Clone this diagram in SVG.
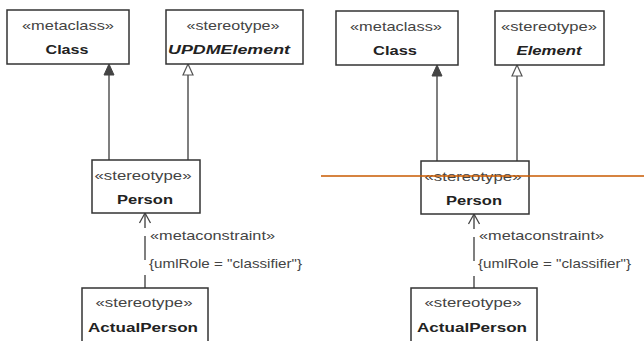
<svg xmlns="http://www.w3.org/2000/svg" width="644" height="341" viewBox="0 0 644 341">
  <style>
    .box { fill: #ffffff; stroke: #333333; stroke-width: 1.5; }
    .st { font-family: "Liberation Sans", Arial, sans-serif; font-size: 13.5px; fill: #444444; text-anchor: middle; }
    .nm { font-family: "Liberation Sans", Arial, sans-serif; font-size: 13.5px; font-weight: bold; fill: #222222; text-anchor: middle; }
    .it { font-style: italic; }
    .lbl { font-family: "Liberation Sans", Arial, sans-serif; font-size: 13.5px; fill: #444444; }
    .edge { fill: none; stroke: #555555; stroke-width: 1.5; }
    .dep { fill: none; stroke: #555555; stroke-width: 1.5; stroke-dasharray: 15 8 24 15 13; }
    .open { fill: none; stroke: #444444; stroke-width: 1.3; }
    .tri-filled { fill: #444444; stroke: #444444; stroke-width: 1; }
    .tri-hollow { fill: #ffffff; stroke: #555555; stroke-width: 1.2; }
  </style>
  <rect width="644" height="341" fill="#ffffff"/>

  <!-- left model -->
  <g id="connectors-left">
    <line class="edge" x1="109" y1="75" x2="109" y2="160"/>
    <polygon class="tri-filled" points="109,64 104,75 114,75"/>
    <line class="edge" x1="188" y1="75" x2="188" y2="160"/>
    <polygon class="tri-hollow" points="188,64 183,75 193,75"/>
    <line class="dep" x1="145" y1="213" x2="145" y2="288"/>
    <polyline class="open" points="139.5,223 145,213 150.5,223"/>
    <text class="lbl" x="150" y="240" textLength="125" lengthAdjust="spacingAndGlyphs">«metaconstraint»</text>
    <text class="lbl" x="149" y="268" textLength="153" lengthAdjust="spacingAndGlyphs">{umlRole = "classifier"}</text>
  </g>
  <g id="left-class">
    <rect class="box" x="7" y="10" width="122" height="54"/>
    <text class="st" x="68" y="30" textLength="92" lengthAdjust="spacingAndGlyphs">«metaclass»</text>
    <text class="nm" x="67" y="54" textLength="43" lengthAdjust="spacingAndGlyphs">Class</text>
  </g>
  <g id="left-updmelement">
    <rect class="box" x="166" y="10" width="137" height="54"/>
    <text class="st" x="233" y="30" textLength="93" lengthAdjust="spacingAndGlyphs">«stereotype»</text>
    <text class="nm it" x="229" y="54" textLength="122" lengthAdjust="spacingAndGlyphs">UPDMElement</text>
  </g>
  <g id="left-person">
    <rect class="box" x="92" y="160" width="108" height="53"/>
    <text class="st" x="143" y="180" textLength="97" lengthAdjust="spacingAndGlyphs">«stereotype»</text>
    <text class="nm" x="145" y="204" textLength="56" lengthAdjust="spacingAndGlyphs">Person</text>
  </g>
  <g id="left-actualperson">
    <rect class="box" x="82" y="288" width="126" height="60"/>
    <text class="st" x="144" y="307" textLength="97" lengthAdjust="spacingAndGlyphs">«stereotype»</text>
    <text class="nm" x="143" y="332" textLength="110" lengthAdjust="spacingAndGlyphs">ActualPerson</text>
  </g>

  <!-- right model -->
  <g id="connectors-right">
    <line class="edge" x1="437" y1="76" x2="437" y2="161"/>
    <polygon class="tri-filled" points="437,65 432,76 442,76"/>
    <line class="edge" x1="517" y1="76" x2="517" y2="161"/>
    <polygon class="tri-hollow" points="517,65 512,76 522,76"/>
    <line class="dep" x1="474" y1="214" x2="474" y2="288"/>
    <polyline class="open" points="468.5,224 474,214 479.5,224"/>
    <text class="lbl" x="479" y="240" textLength="125" lengthAdjust="spacingAndGlyphs">«metaconstraint»</text>
    <text class="lbl" x="478" y="268" textLength="153" lengthAdjust="spacingAndGlyphs">{umlRole = "classifier"}</text>
  </g>
  <g id="right-class">
    <rect class="box" x="336" y="11" width="122" height="54"/>
    <text class="st" x="396" y="31" textLength="92" lengthAdjust="spacingAndGlyphs">«metaclass»</text>
    <text class="nm" x="395" y="55" textLength="44" lengthAdjust="spacingAndGlyphs">Class</text>
  </g>
  <g id="right-element">
    <rect class="box" x="495" y="11" width="109" height="54"/>
    <text class="st" x="549" y="31" textLength="96" lengthAdjust="spacingAndGlyphs">«stereotype»</text>
    <text class="nm it" x="549" y="55" textLength="65" lengthAdjust="spacingAndGlyphs">Element</text>
  </g>
  <g id="right-person">
    <rect class="box" x="421" y="161" width="108" height="53"/>
    <text class="st" x="473" y="181" textLength="97" lengthAdjust="spacingAndGlyphs">«stereotype»</text>
    <text class="nm" x="474" y="205" textLength="56" lengthAdjust="spacingAndGlyphs">Person</text>
  </g>
  <g id="right-actualperson">
    <rect class="box" x="411" y="288" width="126" height="60"/>
    <text class="st" x="473" y="307" textLength="97" lengthAdjust="spacingAndGlyphs">«stereotype»</text>
    <text class="nm" x="472" y="332" textLength="110" lengthAdjust="spacingAndGlyphs">ActualPerson</text>
  </g>

  <!-- horizontal rule across the right model -->
  <line x1="321" y1="176" x2="644" y2="176" stroke="#c85a00" stroke-width="1.5"/>
</svg>
